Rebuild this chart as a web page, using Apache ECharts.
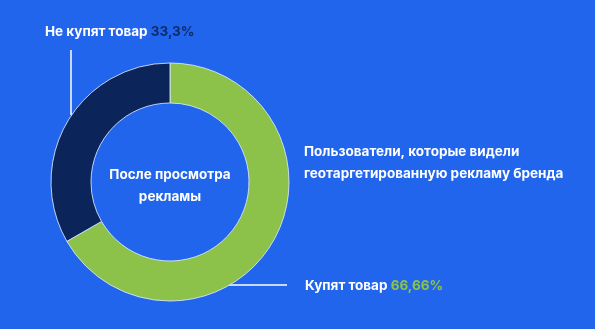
<!DOCTYPE html>
<html>
<head>
<meta charset="utf-8">
<script src="https://cdn.jsdelivr.net/npm/echarts@6/dist/echarts.min.js"></script>
<style>
  html, body { margin: 0; padding: 0; background: #2165EC; }
  #chart { width: 595px; height: 329px; }
</style>
</head>
<body>
<div id="chart"></div>
<script>
// Share of users who will buy after seeing the geo-targeted ad
const categories = ['Купят товар', 'Не купят товар'];
const shares = [66.66, 33.3];
const shareLabels = ['66,66%', '33,3%'];
const sliceColors = ['#8CC24A', '#0B2459'];
const centerText = ['После просмотра', 'рекламы'];
const sideText = ['Пользователи, которые видели', 'геотаргетированную рекламу бренда'];

const FONT = 'Inter, "Noto Sans", sans-serif';
const FS = 13.5;
const chart = echarts.init(document.getElementById('chart'), null, { renderer: 'canvas' });

// Where each slice's caption sits and how its leader line runs
const labelSpots = [
  { x: 305, y: 286, line: [[228, 285], [258, 285], [287, 285]] },
  { x: 45, y: 32, line: [[71, 115], [71, 80], [71, 50]] }
];

chart.setOption({
  backgroundColor: '#2165EC',
  animation: false,
  series: [{
    type: 'pie',
    center: [170, 182],
    radius: [79, 119],
    startAngle: 90,
    clockwise: true,
    silent: true,
    avoidLabelOverlap: false,
    itemStyle: { borderColor: 'rgba(220,232,255,0.85)', borderWidth: 1 },
    data: categories.map((name, i) => ({
      name, value: shares[i],
      itemStyle: { color: sliceColors[i] },
      label: { rich: { v: { color: i === 0 ? '#8CC24A' : '#0E2B6B', fontWeight: 700, fontSize: FS, fontFamily: FONT } } }
    })),
    label: {
      show: true,
      position: 'outside',
      alignTo: 'none',
      formatter: p => p.name + ' {v|' + shareLabels[p.dataIndex] + '}',
      color: '#ffffff',
      fontFamily: FONT,
      fontWeight: 700,
      fontSize: FS
    },
    labelLine: { show: true, lineStyle: { color: '#ffffff', width: 1.5 } },
    labelLayout: p => ({
      x: labelSpots[p.dataIndex].x,
      y: labelSpots[p.dataIndex].y,
      align: 'left',
      verticalAlign: 'middle',
      hideOverlap: false,
      labelLinePoints: labelSpots[p.dataIndex].line
    })
  }],
  graphic: [
    {
      type: 'text',
      style: {
        text: centerText.join('\n'), fill: '#ffffff', font: '700 ' + FS + 'px ' + FONT,
        align: 'center', verticalAlign: 'middle', lineHeight: 22
      },
      x: 170, y: 186
    },
    {
      type: 'text',
      style: {
        text: sideText.join('\n'), fill: '#ffffff', font: '700 ' + FS + 'px ' + FONT,
        align: 'left', verticalAlign: 'middle', lineHeight: 22
      },
      x: 304, y: 163
    }
  ]
});
</script>
</body>
</html>
